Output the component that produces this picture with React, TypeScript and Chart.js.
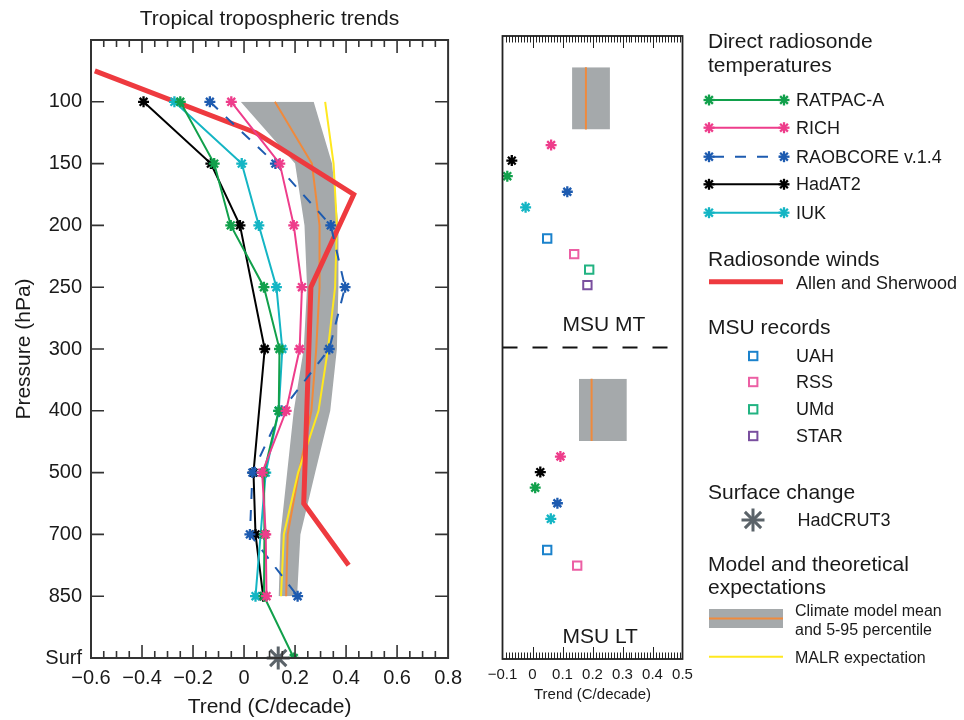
import React, { useEffect, useRef } from 'react';
import { Chart, registerables } from 'chart.js';

Chart.register(...registerables);

const FONT = '"Liberation Sans", Arial, Helvetica, sans-serif';
const INK = '#1a1a1a';
const TITLE = 'Tropical tropospheric trends';

// ---------- Left panel data (pressure levels top -> bottom) ----------
const LEVEL_LABELS = ['', '100', '150', '200', '250', '300', '400', '500', '700', '850', 'Surf'];
// values at 100,150,200,250,300,400,500,700,850,Surf (null = no value)
const RATPAC_A = [-0.25, -0.117, -0.052, 0.078, 0.139, 0.136, 0.078, 0.08, 0.078, 0.195];
const RICH = [-0.05, 0.14, 0.195, 0.227, 0.218, 0.165, 0.071, 0.085, 0.088, null];
const RAOBCORE = [-0.134, 0.123, 0.34, 0.396, 0.334, 0.147, 0.033, 0.023, 0.21, null];
const HADAT2 = [-0.394, -0.13, -0.016, null, 0.081, null, 0.037, 0.045, 0.075, null];
const IUK = [-0.273, -0.009, 0.058, 0.127, 0.15, 0.136, 0.085, null, 0.045, null];
const MODEL_P05 = [-0.013, 0.2, 0.237, 0.247, 0.234, 0.195, 0.169, 0.143, 0.136, null];
const MODEL_P95 = [0.273, 0.345, 0.37, 0.37, 0.364, 0.338, 0.279, 0.221, 0.208, null];
const MODEL_MEAN = [0.121, 0.266, 0.296, 0.296, 0.283, 0.264, 0.215, 0.171, 0.165, null];
const MALR = [0.318, 0.351, 0.364, 0.357, 0.329, 0.292, 0.212, 0.156, 0.145, null];
// Allen and Sherwood winds: level position (1 = 100 hPa) and trend
const AS_LEVEL_POS = [0.5, 1.5, 2.5, 4, 7.5, 8.5];
const AS_VALUES = [-0.585, 0.046, 0.43, 0.262, 0.234, 0.41];
const HADCRUT3_SURF = 0.134;

// ---------- Right panel data (MSU MT / MSU LT equivalents) ----------
const SONDE_NAMES = ['RICH', 'HadAT2', 'RATPAC-A', 'RAOBCORE v.1.4', 'IUK'];
const SONDE_MT = [0.062, -0.069, -0.084, 0.116, -0.023];
const SONDE_LT = [0.093, 0.026, 0.009, 0.083, 0.061];
const MSU_NAMES = ['UAH', 'RSS', 'UMd', 'STAR'];
const MSU_MT = [0.049, 0.139, 0.189, 0.183];
const MSU_LT = [0.049, 0.149, null, null];
const MODEL_MT = [0.132, 0.178, 0.258]; // 5%, mean, 95%
const MODEL_LT = [0.155, 0.197, 0.314];

// row slots in the right panel (layout)
const BOX_ROWS = [2, 6];
const SONDE_ROW0 = 7;
const MSU_ROW0 = 13;
const LT_OFFSET = 20;

const C = {
  green: '#11a04b',
  pink: '#ee3d8b',
  blue: '#1d5bb0',
  black: '#000000',
  cyan: '#14b5c4',
  red: '#ee3a3f',
  gray: '#a5a9ab',
  orange: '#f08a3c',
  yellow: '#ffe81f',
  star: '#5b6369',
  uah: '#1b82cc',
  rss: '#ec5fa4',
  umd: '#22b382',
  starMsu: '#7a4f9f',
};
const SONDE_COLORS: Record<string, string> = {
  'RATPAC-A': C.green,
  RICH: C.pink,
  'RAOBCORE v.1.4': C.blue,
  HadAT2: C.black,
  IUK: C.cyan,
};
const MSU_COLORS = [C.uah, C.rss, C.umd, C.starMsu];

const levelData = (vals: (number | null)[]) =>
  vals.map((v, i) => (v === null ? null : { x: v, y: i + 1 })).filter(Boolean) as { x: number; y: number }[];

const fmtTick = (v: number) => {
  if (Math.abs(v) < 1e-9) return '0';
  return (v < 0 ? '\u2212' : '') + Math.abs(v).toFixed(1);
};

const starDs = (label: string, data: any[], color: string, extra: any = {}) => ({
  label,
  data,
  borderColor: color,
  backgroundColor: color,
  borderWidth: 2,
  pointStyle: 'star',
  pointRadius: 5.5,
  pointBorderWidth: 2.3,
  pointBorderColor: color,
  pointBackgroundColor: color,
  fill: false,
  ...extra,
});

const leftFrame = {
  id: 'leftFrame',
  afterDraw(chart: any) {
    const { ctx, chartArea: a, scales } = chart;
    const x = scales.x;
    const y = scales.y;
    ctx.save();
    ctx.strokeStyle = '#333';
    ctx.lineWidth = 1.6;
    ctx.beginPath();
    for (let i = 1; i < 28; i++) {
      const v = -0.6 + i * 0.05;
      const px = x.getPixelForValue(v);
      const len = i % 4 === 0 ? 13 : 7;
      ctx.moveTo(px, a.top);
      ctx.lineTo(px, a.top + len);
      ctx.moveTo(px, a.bottom);
      ctx.lineTo(px, a.bottom - len);
    }
    for (let i = 1; i <= 9; i++) {
      const py = y.getPixelForValue(i);
      ctx.moveTo(a.left, py);
      ctx.lineTo(a.left + 13, py);
      ctx.moveTo(a.right, py);
      ctx.lineTo(a.right - 13, py);
    }
    ctx.stroke();
    ctx.lineWidth = 2;
    ctx.strokeRect(a.left, a.top, a.right - a.left, a.bottom - a.top);
    ctx.fillStyle = INK;
    ctx.font = `21px ${FONT}`;
    ctx.textAlign = 'center';
    ctx.textBaseline = 'middle';
    ctx.fillText(TITLE, (a.left + a.right) / 2, a.top - 21);
    ctx.restore();
  },
};

const rightFrame = {
  id: 'rightFrame',
  afterDraw(chart: any) {
    const { ctx, chartArea: a, scales } = chart;
    const x = scales.x;
    const y = scales.y;
    ctx.save();
    ctx.strokeStyle = '#222';
    ctx.lineWidth = 1;
    ctx.beginPath();
    for (let i = 1; i < 60; i++) {
      const v = -0.1 + i * 0.01;
      const px = Math.round(x.getPixelForValue(v)) + 0.5;
      const len = i % 10 === 0 ? 12 : 6.5;
      ctx.moveTo(px, a.top);
      ctx.lineTo(px, a.top + len);
      ctx.moveTo(px, a.bottom);
      ctx.lineTo(px, a.bottom - len);
    }
    ctx.stroke();
    ctx.lineWidth = 1.8;
    ctx.strokeRect(a.left, a.top, a.right - a.left, a.bottom - a.top);
    ctx.fillStyle = INK;
    ctx.font = `21px ${FONT}`;
    ctx.textAlign = 'left';
    ctx.textBaseline = 'middle';
    ctx.fillText('MSU MT', x.getPixelForValue(0.1), y.getPixelForValue(18.6));
    ctx.fillText('MSU LT', x.getPixelForValue(0.1), y.getPixelForValue(18.6 + LT_OFFSET));
    ctx.restore();
  },
};

function LeftChart() {
  const ref = useRef<HTMLCanvasElement>(null);
  useEffect(() => {
    const tickFont = { family: FONT, size: 20 };
    const chart = new Chart(ref.current!, {
      type: 'line',
      data: {
        datasets: [
          starDs('HadCRUT3', [{ x: HADCRUT3_SURF, y: 10 }], C.star, {
            showLine: false,
            pointRadius: 11.5,
            pointBorderWidth: 3,
            clip: false,
          }),
          starDs('RICH', levelData(RICH), C.pink),
          starDs('RATPAC-A', levelData(RATPAC_A), C.green),
          starDs('IUK', levelData(IUK), C.cyan),
          starDs('RAOBCORE v.1.4', levelData(RAOBCORE), C.blue, { borderDash: [11, 11] }),
          starDs('HadAT2', levelData(HADAT2), C.black),
          {
            label: 'Allen and Sherwood',
            data: AS_VALUES.map((v, i) => ({ x: v, y: AS_LEVEL_POS[i] })),
            borderColor: C.red,
            borderWidth: 5,
            borderJoinStyle: 'miter',
            pointRadius: 0,
            fill: false,
          },
          {
            label: 'MALR expectation',
            data: levelData(MALR),
            borderColor: C.yellow,
            borderWidth: 2,
            pointRadius: 0,
            fill: false,
          },
          {
            label: 'Climate model mean',
            data: levelData(MODEL_MEAN),
            borderColor: C.orange,
            borderWidth: 2,
            pointRadius: 0,
            fill: false,
          },
          {
            label: 'Model 95 percentile',
            data: levelData(MODEL_P95),
            borderColor: C.gray,
            borderWidth: 0,
            backgroundColor: C.gray,
            pointRadius: 0,
            fill: '+1',
          },
          {
            label: 'Model 5 percentile',
            data: levelData(MODEL_P05),
            borderColor: C.gray,
            borderWidth: 0,
            pointRadius: 0,
            fill: false,
          },
        ],
      },
      options: {
        animation: false,
        responsive: false,
        indexAxis: 'y',
        layout: { padding: { left: 0, right: 20, top: 40, bottom: 0 } },
        plugins: {
          legend: { display: false },
          tooltip: { enabled: false },
          title: { display: false },
        },
        scales: {
          x: {
            type: 'linear',
            position: 'bottom',
            min: -0.6,
            max: 0.8,
            grid: { display: false, drawTicks: false },
            border: { display: false },
            ticks: {
              stepSize: 0.2,
              padding: 8,
              maxRotation: 0,
              minRotation: 0,
              autoSkip: false,
              color: INK,
              font: tickFont,
              callback: (v: any) => fmtTick(Number(v)),
            },
            title: {
              display: true,
              text: 'Trend (C/decade)',
              color: INK,
              font: { family: FONT, size: 21 },
              padding: { top: 0, bottom: 0 },
            },
            afterFit: (s: any) => {
              s.height = 62;
            },
          },
          y: {
            type: 'linear',
            reverse: true,
            min: 0,
            max: 10,
            grid: { display: false, drawTicks: false },
            border: { display: false },
            ticks: {
              stepSize: 1,
              autoSkip: false,
              padding: 9,
              color: INK,
              font: tickFont,
              callback: (v: any) => LEVEL_LABELS[Math.round(Number(v))] ?? '',
            },
            title: {
              display: true,
              text: 'Pressure (hPa)',
              color: INK,
              font: { family: FONT, size: 21 },
              padding: { top: 12, bottom: 0 },
            },
            afterFit: (s: any) => {
              s.width = 91;
            },
          },
        },
      } as any,
      plugins: [leftFrame],
    });
    return () => chart.destroy();
  }, []);
  return <canvas ref={ref} width={470} height={720} style={{ position: 'absolute', left: 0, top: 0 }} />;
}

function RightChart() {
  const ref = useRef<HTMLCanvasElement>(null);
  useEffect(() => {
    const datasets: any[] = [];
    SONDE_NAMES.forEach((name, i) => {
      datasets.push(
        starDs(
          name,
          [
            { x: SONDE_MT[i], y: SONDE_ROW0 + i },
            { x: SONDE_LT[i], y: SONDE_ROW0 + i + LT_OFFSET },
          ],
          SONDE_COLORS[name],
          { showLine: false }
        )
      );
    });
    MSU_NAMES.forEach((name, i) => {
      const pts: any[] = [{ x: MSU_MT[i], y: MSU_ROW0 + i }];
      if (MSU_LT[i] !== null) pts.push({ x: MSU_LT[i], y: MSU_ROW0 + i + LT_OFFSET });
      datasets.push({
        label: name,
        data: pts,
        showLine: false,
        pointStyle: 'rect',
        pointRadius: 5.9,
        pointBorderWidth: 2,
        pointBorderColor: MSU_COLORS[i],
        pointBackgroundColor: 'rgba(255,255,255,0)',
        borderColor: MSU_COLORS[i],
      });
    });
    datasets.push({
      label: 'divider',
      data: [
        { x: -0.1, y: LT_OFFSET },
        { x: 0.5, y: LT_OFFSET },
      ],
      borderColor: '#111',
      borderWidth: 2,
      borderDash: [15, 15],
      pointRadius: 0,
      fill: false,
    });
    [MODEL_MT, MODEL_LT].forEach((m, k) => {
      const off = k * LT_OFFSET;
      const rows = BOX_ROWS.map((r) => r + off);
      datasets.push({
        label: 'mean',
        data: rows.map((r) => ({ x: m[1], y: r })),
        borderColor: C.orange,
        borderWidth: 2,
        pointRadius: 0,
        fill: false,
      });
      datasets.push({
        label: 'p95',
        data: rows.map((r) => ({ x: m[2], y: r })),
        borderWidth: 0,
        borderColor: C.gray,
        backgroundColor: C.gray,
        pointRadius: 0,
        fill: '+1',
      });
      datasets.push({
        label: 'p05',
        data: rows.map((r) => ({ x: m[0], y: r })),
        borderWidth: 0,
        borderColor: C.gray,
        pointRadius: 0,
        fill: false,
      });
    });

    const chart = new Chart(ref.current!, {
      type: 'line',
      data: { datasets },
      options: {
        animation: false,
        responsive: false,
        indexAxis: 'y',
        layout: { padding: { left: 22.5, right: 17.5, top: 36, bottom: 0 } },
        plugins: { legend: { display: false }, tooltip: { enabled: false } },
        scales: {
          x: {
            type: 'linear',
            min: -0.1,
            max: 0.5,
            grid: { display: false, drawTicks: false },
            border: { display: false },
            ticks: {
              stepSize: 0.1,
              padding: 7,
              maxRotation: 0,
              minRotation: 0,
              autoSkip: false,
              color: INK,
              font: { family: FONT, size: 15 },
              callback: (v: any) => fmtTick(Number(v)),
            },
            title: {
              display: true,
              text: 'Trend (C/decade)',
              color: INK,
              font: { family: FONT, size: 15 },
              padding: { top: 0, bottom: 16 },
            },
            afterFit: (s: any) => {
              s.height = 61;
            },
          },
          y: { type: 'linear', reverse: true, min: 0, max: 40, display: false },
        },
      } as any,
      plugins: [rightFrame],
    });
    return () => chart.destroy();
  }, []);
  return <canvas ref={ref} width={220} height={720} style={{ position: 'absolute', left: 480, top: 0 }} />;
}

function Label({ x, y, size, children }: { x: number; y: number; size: number; children: React.ReactNode }) {
  const lh = Math.round(size * 1.2);
  return (
    <div
      style={{
        position: 'absolute',
        left: x,
        top: y - lh / 2,
        fontSize: size,
        lineHeight: `${lh}px`,
        fontFamily: FONT,
        color: INK,
        whiteSpace: 'nowrap',
      }}
    >
      {children}
    </div>
  );
}

function Star({ cx, cy, r, color, w }: { cx: number; cy: number; r: number; color: string; w: number }) {
  const d = r * Math.SQRT1_2;
  return (
    <g stroke={color} strokeWidth={w}>
      <line x1={cx - r} y1={cy} x2={cx + r} y2={cy} />
      <line x1={cx} y1={cy - r} x2={cx} y2={cy + r} />
      <line x1={cx - d} y1={cy - d} x2={cx + d} y2={cy + d} />
      <line x1={cx - d} y1={cy + d} x2={cx + d} y2={cy - d} />
    </g>
  );
}

const LEGEND_SONDES = ['RATPAC-A', 'RICH', 'RAOBCORE v.1.4', 'HadAT2', 'IUK'];
const LEGEND_SONDE_Y = [100, 127.7, 156.7, 184.3, 212.7];
const LEGEND_MSU_Y = [356, 382, 409.3, 436];

function Legend() {
  return (
    <>
      <svg width={964} height={720} style={{ position: 'absolute', left: 0, top: 0, pointerEvents: 'none' }}>
        {LEGEND_SONDES.map((name, i) => {
          const y = LEGEND_SONDE_Y[i];
          const col = SONDE_COLORS[name];
          return (
            <g key={name}>
              <line
                x1={709}
                y1={y}
                x2={784}
                y2={y}
                stroke={col}
                strokeWidth={2}
                strokeDasharray={name.startsWith('RAOBCORE') ? '11 11' : undefined}
                strokeDashoffset={name.startsWith('RAOBCORE') ? -4 : undefined}
              />
              <Star cx={709} cy={y} r={5.5} color={col} w={2.3} />
              <Star cx={784} cy={y} r={5.5} color={col} w={2.3} />
            </g>
          );
        })}
        <line x1={709} y1={281.7} x2={783} y2={281.7} stroke={C.red} strokeWidth={5} />
        {MSU_NAMES.map((n, i) => (
          <rect key={n} x={749} y={LEGEND_MSU_Y[i] - 4.2} width={8.4} height={8.4} fill="none" stroke={MSU_COLORS[i]} strokeWidth={2} />
        ))}
        <Star cx={753} cy={520} r={11.5} color={C.star} w={3} />
        <rect x={709} y={609} width={74} height={19} fill={C.gray} />
        <line x1={709} y1={618.5} x2={783} y2={618.5} stroke={C.orange} strokeWidth={2} />
        <line x1={709} y1={656.7} x2={783} y2={656.7} stroke={C.yellow} strokeWidth={2} />
      </svg>
      <Label x={708} y={40.7} size={21}>Direct radiosonde</Label>
      <Label x={708} y={64} size={21}>temperatures</Label>
      {LEGEND_SONDES.map((name, i) => (
        <Label key={name} x={796} y={LEGEND_SONDE_Y[i]} size={18}>
          {name}
        </Label>
      ))}
      <Label x={708} y={258.3} size={21}>Radiosonde winds</Label>
      <Label x={796} y={283} size={18}>Allen and Sherwood</Label>
      <Label x={708} y={326.7} size={21}>MSU records</Label>
      {MSU_NAMES.map((n, i) => (
        <Label key={n} x={796} y={LEGEND_MSU_Y[i]} size={18}>
          {n}
        </Label>
      ))}
      <Label x={708} y={491.7} size={21}>Surface change</Label>
      <Label x={797.5} y={520} size={18}>HadCRUT3</Label>
      <Label x={708} y={563.3} size={21}>Model and theoretical</Label>
      <Label x={708} y={586.7} size={21}>expectations</Label>
      <Label x={795} y={610} size={16}>Climate model mean</Label>
      <Label x={795} y={629.3} size={16}>and 5-95 percentile</Label>
      <Label x={795} y={657} size={16}>MALR expectation</Label>
    </>
  );
}

export default function App() {
  useEffect(() => {
    document.body.style.margin = '0';
  }, []);
  return (
    <div style={{ position: 'relative', width: 964, height: 720, background: '#fff', overflow: 'hidden' }}>
      <LeftChart />
      <RightChart />
      <Legend />
    </div>
  );
}
